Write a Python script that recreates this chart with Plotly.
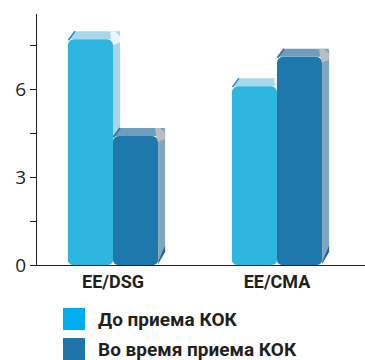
import math
import plotly.graph_objects as go

# Data
categories = ["EE/DSG", "EE/CMA"]
series_names = ["До приема КОК", "Во время приема КОК"]
before_values = [7.7, 6.1]
during_values = [4.4, 7.1]
y_tick_values = [0, 1.5, 3, 4.5, 6, 7.5]
y_tick_labels = ["0", "", "3", "", "6", ""]

# Layout geometry (pixels)
W, H = 365, 360
ML, MR, MT, MB = 37, 0, 14, 95
PLOT_W = W - ML - MR
PLOT_H = H - MT - MB
X_RANGE = [-0.4634, 1.5366]
Y_RANGE = [0, 8.56]
PX_X = PLOT_W / (X_RANGE[1] - X_RANGE[0])
PX_Y = PLOT_H / (Y_RANGE[1] - Y_RANGE[0])

BAR_W = 0.275
DEPTH_X, DEPTH_Y = 7, 8  # extrusion of the 3D faces, px
FOOT_R = 5  # rounding of the bars' bottom corners, px

TEXT = "#231F20"
styles = [
    dict(front="#2DB7E0", top="#A8D8E9", side="#A6D5E5", corner="#EEF5F8",
         wedge="#1F82BF", edge="#1B8ED0", legend="#00AEEF", layer="below"),
    dict(front="#1F78AB", top="#6F9EBD", side="#7FA5BF", corner="#B9BEC2",
         wedge="#1C62A0", edge="#2D6E9E", legend="#1F75A8", layer="above"),
]


def dx(p):
    return p / PX_X


def dy(p):
    return p / PX_Y


def poly(points):
    return "M " + " L ".join(f"{x:.5f},{y:.5f}" for x, y in points) + " Z"


def foot_cutout(cx, sign):
    """White area outside a rounded bottom corner at x=cx (sign=+1 left corner, -1 right)."""
    pts = [(cx, 0.0), (cx + sign * dx(FOOT_R), 0.0)]
    for k in range(7):
        a = math.pi / 2 * k / 6
        px = FOOT_R - FOOT_R * math.sin(a)
        py = FOOT_R - FOOT_R * math.cos(a)
        pts.append((cx + sign * dx(px), dy(py)))
    pts.append((cx, dy(FOOT_R)))
    return poly(pts)


x_pos = list(range(len(categories)))
fig = go.Figure()
shapes = []

for s_idx, (name, values) in enumerate(zip(series_names, [before_values, during_values])):
    st = styles[s_idx]
    offset = -BAR_W if s_idx == 0 else 0.0
    fig.add_trace(go.Bar(
        x=x_pos, y=values, name=name, width=BAR_W, offset=offset,
        marker=dict(color=st["front"], line=dict(width=0), cornerradius=6),
        showlegend=False, hoverinfo="skip",
    ))
    for c, v in zip(x_pos, values):
        xl = c + offset
        xr = xl + BAR_W
        ex, ey = dx(DEPTH_X), dy(DEPTH_Y)
        faces = [
            (poly([(xl, v), (xl + ex, v + ey), (xr + ex, v + ey), (xr, v)]), st["top"]),
            (poly([(xr, v), (xr + ex, v + ey), (xr + ex, dy(20)), (xr, dy(2))]), st["side"]),
            (poly([(xr + ex, dy(20)), (xr + ex, dy(13)), (xr, dy(1)), (xr, dy(3))]), st["wedge"]),
            (poly([(xr - dx(3), v + ey), (xr + dx(2), v + ey), (xr + ex, v + dy(3)),
                   (xr + ex, v - dy(3)), (xr, v - dy(6)), (xr - dx(2), v)]), st["corner"]),
        ]
        for path, col in faces:
            shapes.append(dict(type="path", path=path, xref="x", yref="y",
                               fillcolor=col, line=dict(width=0), layer=st["layer"]))
        shapes.append(dict(type="line", xref="x", yref="y", x0=xl + dx(0.5), y0=v - dy(1),
                           x1=xl + ex, y1=v + ey, line=dict(color=st["edge"], width=1.5),
                           layer=st["layer"]))

# Rounded feet of every front face
for s_idx, values in enumerate([before_values, during_values]):
    offset = -BAR_W if s_idx == 0 else 0.0
    for c in x_pos:
        xl = c + offset
        xr = xl + BAR_W
        for cx, sign in ((xl, 1), (xr, -1)):
            shapes.append(dict(type="path", path=foot_cutout(cx, sign), xref="x", yref="y",
                               fillcolor="white", line=dict(width=0), layer="above"))


def paper_x(px):
    return (px - ML) / PLOT_W


def paper_y(py):
    return (H - MB - py) / PLOT_H


# Legend drawn below the plot
annotations = []
for i, name in enumerate(series_names):
    top_px = 308 + 30 * i
    shapes.append(dict(type="rect", xref="paper", yref="paper",
                       x0=paper_x(63), x1=paper_x(85), y0=paper_y(top_px + 22), y1=paper_y(top_px),
                       fillcolor=styles[i]["legend"], line=dict(width=0), layer="above"))
    annotations.append(dict(text=f"<b>{name}</b>", xref="paper", yref="paper",
                            x=paper_x(96), y=paper_y(top_px + 11), xanchor="left", yanchor="middle",
                            showarrow=False, font=dict(family="Roboto", size=19, color=TEXT)))

fig.update_layout(
    width=W, height=H,
    margin=dict(l=ML, r=MR, t=MT, b=MB, pad=0),
    paper_bgcolor="white", plot_bgcolor="white",
    barmode="overlay",
    shapes=shapes, annotations=annotations,
    showlegend=False,
    xaxis=dict(range=X_RANGE, tickvals=x_pos, ticktext=categories, showgrid=False,
               zeroline=False, showline=True, linecolor=TEXT, linewidth=1.4, ticks="",
               tickfont=dict(family="Roboto", size=18, color=TEXT, weight="bold"),
               fixedrange=True),
    yaxis=dict(range=Y_RANGE, tickvals=y_tick_values, ticktext=y_tick_labels, showgrid=False,
               zeroline=False, showline=True, linecolor=TEXT, linewidth=1.4,
               ticks="outside", ticklen=6, tickwidth=1.2, tickcolor=TEXT,
               tickfont=dict(family="Open Sans", size=19, color=TEXT),
               fixedrange=True),
)

fig.write_html("out.html", config=dict(displayModeBar=False))
